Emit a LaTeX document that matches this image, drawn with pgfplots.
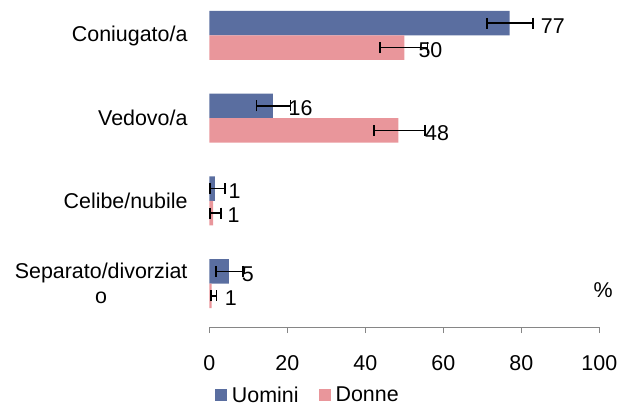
\documentclass[border=0pt]{standalone}
\usepackage{fontspec}
\setmainfont{Liberation Sans}
\usepackage{pgfplots}
\usepackage{pgfplotstable}
\pgfplotsset{compat=1.18}
\definecolor{uomini}{RGB}{90,110,160}
\definecolor{donne}{RGB}{233,150,155}
\definecolor{axgray}{RGB}{134,134,134}

\pgfplotstableread{
c v ep em
3 77 6 5.8
2 16.3 4.5 4.2
1 1.4 2.6 1.2
0 5 3.6 3.3
}\uomini
\pgfplotstableread{
c v ep em
3 50 6 6.2
2 48.5 6.8 6.3
1 1 2 0.8
0 0.6 1.3 0.2
}\donne

\begin{document}
\begin{tikzpicture}[font=\fontsize{21.5}{25}\selectfont]
\begin{axis}[
 name=ax,
 scale only axis,
 width=390bp, height=327bp,
 xmin=0, xmax=100,
 ymin=-0.526, ymax=3.429,
 xbar, bar width=24.5bp,
 axis x line=bottom, axis y line=left,
 x axis line style={axgray, line width=1bp, -},
 y axis line style={draw=none},
 xtick={0,20,...,100},
 xtick style={axgray, line width=1bp},
 tick align=outside, major tick length=6bp,
 ytick={0,1,2,3},
 yticklabels={{Separato/divorziat\\o},Celibe/nubile,Vedovo/a,Coniugato/a},
 ytick style={draw=none},
 yticklabel style={align=center, xshift=-12.3bp},
 xticklabel style={yshift=-19bp},
 /pgf/number format/assume math mode=true,
 clip=false,
 legend columns=2,
 legend style={draw=none, fill=none, at={(0.250,-0.208)}, anchor=center,
   nodes={inner sep=0bp},
   /tikz/every odd column/.append style={column sep=5bp},
   /tikz/every even column/.append style={column sep=20bp}},
 legend image code/.code={\fill[#1] (0bp,-6bp) rectangle (12bp,6bp);},
]
\addplot[fill=uomini, draw=none, bar shift=12.25bp,
  error bars/.cd, x dir=both, x explicit,
  error bar style={draw=black, solid, line width=1.5bp},
  error mark options={draw=black, solid, mark size=5.5bp, line width=1.5bp, rotate=90}]
  table[x=v, y=c, x error plus=ep, x error minus=em] {\uomini};
\addplot[fill=donne, draw=none, bar shift=-12.25bp,
  error bars/.cd, x dir=both, x explicit,
  error bar style={draw=black, solid, line width=1.5bp},
  error mark options={draw=black, solid, mark size=5.5bp, line width=1.5bp, rotate=90}]
  table[x=v, y=c, x error plus=ep, x error minus=em] {\donne};
\legend{Uomini,Donne}
\node at (axis cs:88.1,3.118) {77};
\node at (axis cs:56.7,2.822) {50};
\node at (axis cs:23.4,2.118) {16};
\node at (axis cs:58.4,1.822) {48};
\node at (axis cs:6.5,1.118) {1};
\node at (axis cs:6.2,0.822) {1};
\node at (axis cs:9.9,0.118) {5};
\node at (axis cs:5.5,-0.178) {1};
\node at (axis cs:101,-0.079) {\%};
\end{axis}
\pgfresetboundingbox
\useasboundingbox ([shift={(-209.3bp,-84bp)}]ax.south west) rectangle ([shift={(19.7bp,0bp)}]ax.north east);
\end{tikzpicture}
\end{document}
